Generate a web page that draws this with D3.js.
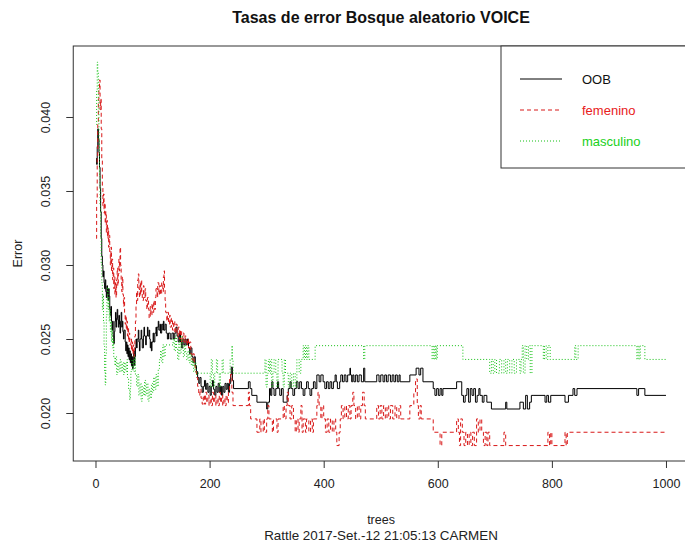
<!DOCTYPE html>
<html>
<head>
<meta charset="utf-8">
<script src="https://cdn.jsdelivr.net/npm/d3@7/dist/d3.min.js"></script>
<style>
  html, body { margin: 0; padding: 0; background: #fff; }
  svg { display: block; font-family: "Liberation Sans", Arial, sans-serif; }
</style>
</head>
<body>
<svg id="chart" width="685" height="545"></svg>
<script>
// Error rates of the random forest by number of trees: [tree, error] change points
const oob = [
  [1,0.0372],[2,0.0368],[3,0.0380],[4,0.0392],[5,0.0385],[6,0.0376],[7,0.0366],[8,0.0352],[9,0.0336],[10,0.0318],
  [11,0.0306],[12,0.0300],[13,0.0292],[14,0.0296],[15,0.0288],[16,0.0284],[17,0.0290],[18,0.0282],[19,0.0278],[20,0.0286],
  [21,0.0280],[22,0.0276],[23,0.0284],[24,0.0279],[25,0.0270],[26,0.0266],[27,0.0272],[28,0.0262],[29,0.0256],[30,0.0262],
  [31,0.0252],[32,0.0247],[33,0.0255],[34,0.0262],[35,0.0268],[36,0.0258],[37,0.0264],[38,0.0270],[39,0.0263],[40,0.0258],
  [41,0.0266],[42,0.0260],[43,0.0254],[44,0.0262],[45,0.0268],[46,0.0258],[47,0.0262],[48,0.0255],[49,0.0250],[50,0.0256],
  [52,0.0248],[53,0.0242],[54,0.0248],[55,0.0240],[56,0.0246],[57,0.0238],[58,0.0244],[59,0.0236],[60,0.0242],[61,0.0234],
  [62,0.0240],[63,0.0232],[64,0.0238],[65,0.0230],[66,0.0236],[67,0.0242],[68,0.0232],[69,0.0238],[70,0.0244],[71,0.0250],
  [72,0.0244],[73,0.0250],[75,0.0256],[76,0.0248],[77,0.0242],[78,0.0250],[80,0.0256],[81,0.0250],[82,0.0244],[84,0.0252],
  [85,0.0258],[86,0.0252],[88,0.0246],[89,0.0252],[91,0.0258],[92,0.0252],[94,0.0256],[95,0.0250],[96,0.0244],[97,0.0248],
  [98,0.0242],[99,0.0248],[101,0.0254],[102,0.0248],[104,0.0254],[106,0.0258],[107,0.0252],[108,0.0258],[110,0.0262],[111,0.0256],
  [113,0.0260],[114,0.0254],[116,0.0260],[118,0.0256],[119,0.0262],[120,0.0256],[122,0.0260],[124,0.0254],[126,0.0250],[128,0.0254],
  [131,0.0250],[134,0.0254],[137,0.0250],[139,0.0254],[141,0.0258],[143,0.0252],[145,0.0248],[147,0.0254],[149,0.0248],[151,0.0244],
  [153,0.0250],[155,0.0246],[157,0.0250],[159,0.0246],[161,0.0250],[163,0.0244],[165,0.0240],[167,0.0244],[169,0.0238],[171,0.0234],
  [173,0.0238],[175,0.0232],[177,0.0228],[179,0.0224],[181,0.0220],[183,0.0224],[185,0.0218],[187,0.0214],[189,0.0218],[191,0.0222],
  [193,0.0216],[195,0.0220],[197,0.0214],[199,0.0218],[201,0.0212],[203,0.0218],[205,0.0222],[207,0.0216],[209,0.0212],[211,0.0218],
  [213,0.0214],[215,0.0220],[217,0.0214],[219,0.0218],[221,0.0212],[223,0.0218],[225,0.0214],[227,0.0220],[229,0.0216],[231,0.0220],
  [233,0.0214],[235,0.0220],[237,0.0226],[238,0.0231],[240,0.0222],[242,0.02165],[268,0.02211],[271,0.02165],[274,0.02119],[283,0.02073],
  [300,0.02027],[302,0.02073],[305,0.02165],[307,0.02119],[309,0.02211],[311,0.02165],[313,0.02119],[316,0.02165],[319,0.02211],[321,0.02165],
  [323,0.02119],[326,0.02165],[329,0.02073],[336,0.02119],[338,0.02165],[341,0.02211],[343,0.02165],[346,0.02119],[349,0.02165],[352,0.02211],
  [355,0.02165],[358,0.02211],[361,0.02165],[364,0.02119],[367,0.02165],[370,0.02211],[373,0.02165],[376,0.02119],[379,0.02165],[382,0.02211],
  [385,0.02165],[388,0.02257],[392,0.02211],[395,0.02257],[399,0.02211],[402,0.02165],[405,0.02211],[408,0.02165],[411,0.02211],[414,0.02165],
  [417,0.02211],[420,0.02257],[422,0.02211],[424,0.02165],[428,0.02211],[430,0.02257],[433,0.02211],[436,0.02257],[439,0.02211],[442,0.02257],
  [446,0.02303],[447,0.02257],[449,0.02211],[451,0.02257],[453,0.02211],[456,0.02257],[459,0.02211],[462,0.02257],[466,0.02211],[470,0.02303],
  [472,0.02211],[493,0.02257],[497,0.02211],[500,0.02257],[504,0.02211],[507,0.02257],[510,0.02211],[513,0.02257],[517,0.02211],[520,0.02257],
  [523,0.02211],[526,0.02257],[529,0.02211],[532,0.02257],[534,0.02211],[551,0.02257],[562,0.02303],[567,0.02257],[570,0.02303],[574,0.02211],
  [592,0.02165],[595,0.02119],[598,0.02165],[601,0.02119],[604,0.02165],[607,0.02119],[609,0.02165],[633,0.02211],[642,0.02119],[645,0.02073],
  [648,0.02119],[651,0.02165],[654,0.02073],[657,0.02165],[660,0.02119],[663,0.02165],[666,0.02073],[669,0.02119],[672,0.02165],[674,0.02119],
  [678,0.02073],[681,0.02119],[686,0.02073],[694,0.02027],[719,0.02073],[721,0.02027],[744,0.02073],[750,0.02027],[754,0.02119],[757,0.02027],
  [761,0.02073],[764,0.02119],[767,0.02119],[788,0.02073],[791,0.02119],[794,0.02073],[798,0.02119],[823,0.02073],[829,0.02119],[837,0.02165],
  [840,0.02119],[844,0.02165],[949,0.02119],[952,0.02165],[963,0.02119],[1000,0.02119]
];

const femenino = [
  [1,0.0318],[2,0.0345],[3,0.0372],[4,0.0395],[5,0.0412],[6,0.0420],[7,0.0425],[8,0.0405],[9,0.0412],[10,0.0392],
  [11,0.0372],[12,0.0352],[13,0.0340],[14,0.0348],[15,0.0335],[16,0.0342],[17,0.0328],[18,0.0336],[19,0.0322],[20,0.0330],
  [21,0.0318],[22,0.0325],[23,0.0312],[24,0.0320],[25,0.0308],[26,0.0300],[27,0.0312],[28,0.0296],[29,0.0304],[30,0.0290],
  [31,0.0298],[32,0.0284],[33,0.0292],[34,0.0280],[35,0.0288],[36,0.0278],[37,0.0290],[38,0.0298],[39,0.0286],[40,0.0294],
  [41,0.0304],[42,0.0296],[43,0.0312],[44,0.0300],[45,0.0290],[46,0.0282],[47,0.0292],[48,0.0280],[49,0.0272],[50,0.0278],
  [51,0.0268],[52,0.0260],[53,0.0266],[54,0.0256],[55,0.0262],[56,0.0252],[57,0.0258],[58,0.0248],[59,0.0254],[60,0.0246],
  [62,0.0250],[63,0.0242],[64,0.0248],[65,0.0240],[66,0.0246],[67,0.0238],[68,0.0244],[69,0.0252],[70,0.0262],[71,0.0272],
  [72,0.0282],[73,0.0276],[74,0.0290],[75,0.0294],[76,0.0284],[77,0.0278],[78,0.0288],[79,0.0280],[80,0.0290],[81,0.0282],
  [82,0.0276],[84,0.0286],[85,0.0278],[87,0.0284],[88,0.0276],[90,0.0270],[91,0.0278],[93,0.0270],[94,0.0264],[96,0.0272],
  [97,0.0266],[99,0.0274],[100,0.0268],[102,0.0276],[103,0.0270],[105,0.0278],[106,0.0284],[108,0.0278],[109,0.0288],[111,0.0280],
  [112,0.0286],[114,0.0280],[116,0.0288],[118,0.0282],[119,0.0292],[120,0.0296],[121,0.0284],[122,0.0276],[123,0.0268],[125,0.0262],
  [126,0.0268],[128,0.0260],[130,0.0266],[131,0.0258],[133,0.0264],[135,0.0256],[137,0.0262],[139,0.0254],[141,0.0260],[143,0.0252],
  [145,0.0258],[147,0.0250],[149,0.0256],[151,0.0248],[153,0.0254],[155,0.0248],[157,0.0252],[159,0.0246],[161,0.0250],[163,0.0244],
  [165,0.0248],[167,0.0240],[169,0.0236],[171,0.0240],[173,0.0232],[175,0.0228],[177,0.0224],[179,0.0218],[181,0.0212],[183,0.0216],
  [185,0.0210],[187,0.0206],[189,0.0212],[191,0.0206],[193,0.0214],[195,0.0207],[197,0.0212],[199,0.0205],[201,0.0210],[203,0.0205],
  [205,0.0214],[207,0.0207],[209,0.0212],[211,0.0205],[213,0.0210],[215,0.0205],[217,0.0214],[219,0.0207],[221,0.0212],[223,0.0205],
  [225,0.0210],[227,0.0205],[229,0.0212],[231,0.0207],[233,0.0214],[235,0.0223],[237,0.0226],[239,0.0214],[241,0.0205],[268,0.0214],
  [270,0.0205],[272,0.0196],[283,0.0187],[288,0.0196],[290,0.0187],[294,0.0196],[296,0.0187],[300,0.0196],[302,0.0205],[304,0.0196],
  [310,0.0187],[312,0.0196],[318,0.0187],[320,0.0196],[329,0.0205],[331,0.0196],[334,0.0205],[336,0.0214],[338,0.0205],[341,0.0196],
  [344,0.0205],[347,0.0196],[350,0.0187],[352,0.0196],[355,0.0187],[357,0.0196],[360,0.0205],[362,0.0187],[364,0.0196],[368,0.0187],
  [370,0.0196],[374,0.0187],[377,0.0196],[380,0.0187],[382,0.0196],[388,0.0205],[390,0.0214],[392,0.0205],[395,0.0196],[397,0.0205],
  [400,0.0196],[403,0.0187],[406,0.0196],[409,0.0187],[412,0.0196],[415,0.0187],[418,0.0196],[421,0.0187],[423,0.0178],[427,0.0187],
  [429,0.0196],[431,0.0205],[434,0.0196],[437,0.0205],[440,0.0196],[443,0.0205],[446,0.0196],[448,0.0205],[451,0.0214],[453,0.0205],
  [456,0.0196],[459,0.0205],[462,0.0196],[465,0.0205],[468,0.0214],[471,0.0205],[473,0.0196],[493,0.0205],[496,0.0196],[499,0.0205],
  [502,0.0196],[505,0.0205],[508,0.0196],[511,0.0205],[514,0.0196],[517,0.0205],[521,0.0196],[525,0.0205],[528,0.0196],[532,0.0205],
  [535,0.0196],[551,0.0205],[558,0.0214],[561,0.0223],[564,0.0205],[566,0.0196],[569,0.0205],[571,0.0196],[592,0.0187],[604,0.0178],
  [607,0.0187],[633,0.0196],[636,0.0187],[638,0.0178],[640,0.0196],[643,0.0187],[646,0.0178],[649,0.0187],[652,0.0178],[655,0.0187],
  [658,0.0178],[661,0.0187],[664,0.0178],[668,0.0196],[671,0.0187],[674,0.0196],[677,0.0187],[680,0.0178],[683,0.0187],[686,0.0178],
  [688,0.0187],[691,0.0178],[716,0.0187],[719,0.0178],[793,0.0187],[796,0.0178],[798,0.0187],[800,0.0178],[823,0.0187],[825,0.0178],
  [827,0.0187],[1000,0.0187]
];

const masculino = [
  [1,0.0395],[2,0.0418],[3,0.0437],[4,0.0430],[5,0.0410],[6,0.0385],[7,0.0360],[8,0.0340],[9,0.0318],[10,0.0300],
  [11,0.0288],[12,0.0270],[13,0.0280],[14,0.0262],[15,0.0245],[16,0.0228],[17,0.0219],[18,0.0240],[19,0.0265],[20,0.0278],
  [21,0.0285],[22,0.0270],[23,0.0278],[24,0.0262],[25,0.0270],[26,0.0255],[27,0.0262],[28,0.0248],[29,0.0256],[30,0.0244],
  [31,0.0250],[32,0.0238],[34,0.0232],[35,0.0238],[37,0.0226],[39,0.0234],[41,0.0228],[43,0.0236],[45,0.0228],[47,0.0234],
  [49,0.0226],[51,0.0234],[53,0.0228],[55,0.0236],[56,0.0224],[58,0.0216],[60,0.0209],[61,0.0218],[62,0.0228],[64,0.0236],
  [66,0.0228],[68,0.0238],[70,0.0226],[72,0.0218],[74,0.0226],[76,0.0212],[78,0.0220],[80,0.0208],[82,0.0218],[84,0.0212],
  [86,0.0222],[88,0.0212],[90,0.0220],[92,0.0208],[94,0.0216],[96,0.0210],[98,0.0220],[100,0.0214],[102,0.0224],[104,0.0216],
  [106,0.0226],[108,0.0218],[110,0.0230],[112,0.0236],[114,0.0242],[116,0.0234],[118,0.0246],[120,0.0238],[122,0.0246],[136,0.0250],
  [138,0.0242],[140,0.0252],[142,0.0244],[144,0.0236],[146,0.0248],[148,0.0240],[150,0.0252],[152,0.0244],[154,0.0238],[156,0.0246],
  [158,0.0240],[160,0.0236],[162,0.0242],[164,0.0234],[166,0.0240],[168,0.0232],[170,0.0236],[172,0.0228],[174,0.0234],[176,0.0226],
  [178,0.02269],[201,0.02176],[203,0.02362],[205,0.02269],[207,0.02176],[209,0.02269],[212,0.02362],[214,0.02269],[217,0.02176],[219,0.02269],
  [222,0.02362],[224,0.02269],[236,0.02362],[239,0.02455],[240,0.02362],[241,0.02269],[297,0.02362],[299,0.02176],[301,0.02269],[303,0.02362],
  [305,0.02269],[307,0.02362],[309,0.02176],[311,0.02269],[313,0.02362],[316,0.02269],[318,0.02176],[320,0.02362],[327,0.02269],[329,0.02176],
  [331,0.02362],[333,0.02269],[338,0.02176],[341,0.02269],[344,0.02176],[347,0.02269],[350,0.02176],[353,0.02362],[357,0.02269],[360,0.02362],
  [364,0.02455],[366,0.02362],[368,0.02455],[370,0.02362],[372,0.02455],[374,0.02362],[385,0.02455],[470,0.02362],[472,0.02455],[590,0.02362],
  [592,0.02455],[594,0.02362],[596,0.02455],[598,0.02362],[599,0.02455],[644,0.02362],[691,0.02269],[694,0.02362],[697,0.02269],[700,0.02362],
  [703,0.02269],[708,0.02362],[712,0.02269],[716,0.02362],[719,0.02269],[722,0.02362],[726,0.02269],[730,0.02362],[734,0.02269],[738,0.02362],
  [744,0.02269],[746,0.02362],[748,0.02455],[750,0.02269],[753,0.02455],[756,0.02362],[759,0.02455],[762,0.02269],[765,0.02455],[785,0.02362],
  [787,0.02455],[790,0.02362],[793,0.02455],[797,0.02362],[840,0.02455],[842,0.02362],[846,0.02455],[949,0.02362],[951,0.02455],[953,0.02362],
  [955,0.02455],[963,0.02362],[1000,0.02362]
];

const xTicks = [0, 200, 400, 600, 800, 1000];
const yTicks = [0.020, 0.025, 0.030, 0.035, 0.040];
const seriesNames = ["OOB", "femenino", "masculino"];
const seriesColors = ["#000000", "#d81818", "#14c014"];
const labelColors = ["#111111", "#e82020", "#20d020"];
const seriesDash = [null, "4,3", "1,2"];

const svg = d3.select("#chart");
const W = 685, H = 545;
const plot = { left: 73.25, right: 688.8, top: 46, bottom: 461 };

svg.append("rect").attr("width", W).attr("height", H).attr("fill", "#fff");

const x = d3.scaleLinear().domain([-39, 1040]).range([plot.left, plot.right]);
const y = d3.scaleLinear().domain([0.016757, 0.044797]).range([plot.bottom, plot.top]);

const textColor = "#222";

// Error curves, drawn as held steps between change points
const line = d3.line()
  .x(d => x(d[0]))
  .y(d => y(d[1]))
  .curve(d3.curveStepAfter);

svg.append("clipPath").attr("id", "plotclip")
  .append("rect")
  .attr("x", plot.left).attr("y", plot.top)
  .attr("width", plot.right - plot.left).attr("height", plot.bottom - plot.top);

const curves = svg.append("g").attr("clip-path", "url(#plotclip)");
[oob, femenino, masculino].forEach((s, i) => {
  curves.append("path")
    .datum(s)
    .attr("fill", "none")
    .attr("stroke", seriesColors[i])
    .attr("stroke-width", 1)
    .attr("stroke-dasharray", seriesDash[i])
    .attr("d", line);
});

// Axes
const xAxis = d3.axisBottom(x).tickValues(xTicks).tickSize(7).tickFormat(d3.format("d"));
const gx = svg.append("g").attr("transform", `translate(0,${plot.bottom})`).call(xAxis);
gx.select(".domain").remove();
gx.selectAll("line").attr("stroke", "#333");
gx.selectAll("text").attr("fill", textColor).style("font-size", "12.5px")
  .attr("y", 18).attr("dy", "0.71em");

const yAxis = d3.axisLeft(y).tickValues(yTicks).tickSize(7).tickFormat(d3.format(".3f"));
const gy = svg.append("g").attr("transform", `translate(${plot.left},0)`).call(yAxis);
gy.select(".domain").remove();
gy.selectAll("line").attr("stroke", "#333");
gy.selectAll("text")
  .attr("fill", textColor).style("font-size", "12.5px")
  .attr("x", null).attr("dy", null)
  .attr("text-anchor", "middle")
  .attr("transform", "translate(-23,0) rotate(-90)");

// Plot frame
svg.append("rect")
  .attr("x", plot.left).attr("y", plot.top)
  .attr("width", plot.right - plot.left).attr("height", plot.bottom - plot.top)
  .attr("fill", "none").attr("stroke", "#333").attr("stroke-width", 1);

// Legend in the top right corner
const leg = svg.append("g");
leg.append("rect")
  .attr("x", 501).attr("y", plot.top)
  .attr("width", plot.right - 501).attr("height", 168 - plot.top)
  .attr("fill", "#fff").attr("stroke", "#333").attr("stroke-width", 1);
const legY = [79, 110, 141];
seriesNames.forEach((name, i) => {
  leg.append("line")
    .attr("x1", 520).attr("x2", 562)
    .attr("y1", legY[i]).attr("y2", legY[i])
    .attr("stroke", seriesColors[i]).attr("stroke-width", 1)
    .attr("stroke-dasharray", seriesDash[i]);
  leg.append("text")
    .attr("x", 582).attr("y", legY[i]).attr("dy", "0.35em")
    .attr("fill", labelColors[i]).style("font-size", "13px")
    .text(name);
});

// Titles
const cx = (plot.left + plot.right) / 2;
svg.append("text")
  .attr("x", cx).attr("y", 23).attr("text-anchor", "middle")
  .style("font-size", "16px").style("font-weight", "bold").attr("fill", "#111")
  .text("Tasas de error Bosque aleatorio VOICE");
svg.append("text")
  .attr("x", cx).attr("y", 524).attr("text-anchor", "middle")
  .style("font-size", "12.5px").attr("fill", textColor)
  .text("trees");
svg.append("text")
  .attr("x", cx).attr("y", 540).attr("text-anchor", "middle")
  .style("font-size", "13.4px").attr("fill", textColor)
  .text("Rattle 2017-Set.-12 21:05:13 CARMEN");
svg.append("text")
  .attr("transform", `translate(22,${(plot.top + plot.bottom) / 2}) rotate(-90)`)
  .attr("text-anchor", "middle")
  .style("font-size", "12.5px").attr("fill", textColor)
  .text("Error");
</script>
</body>
</html>
